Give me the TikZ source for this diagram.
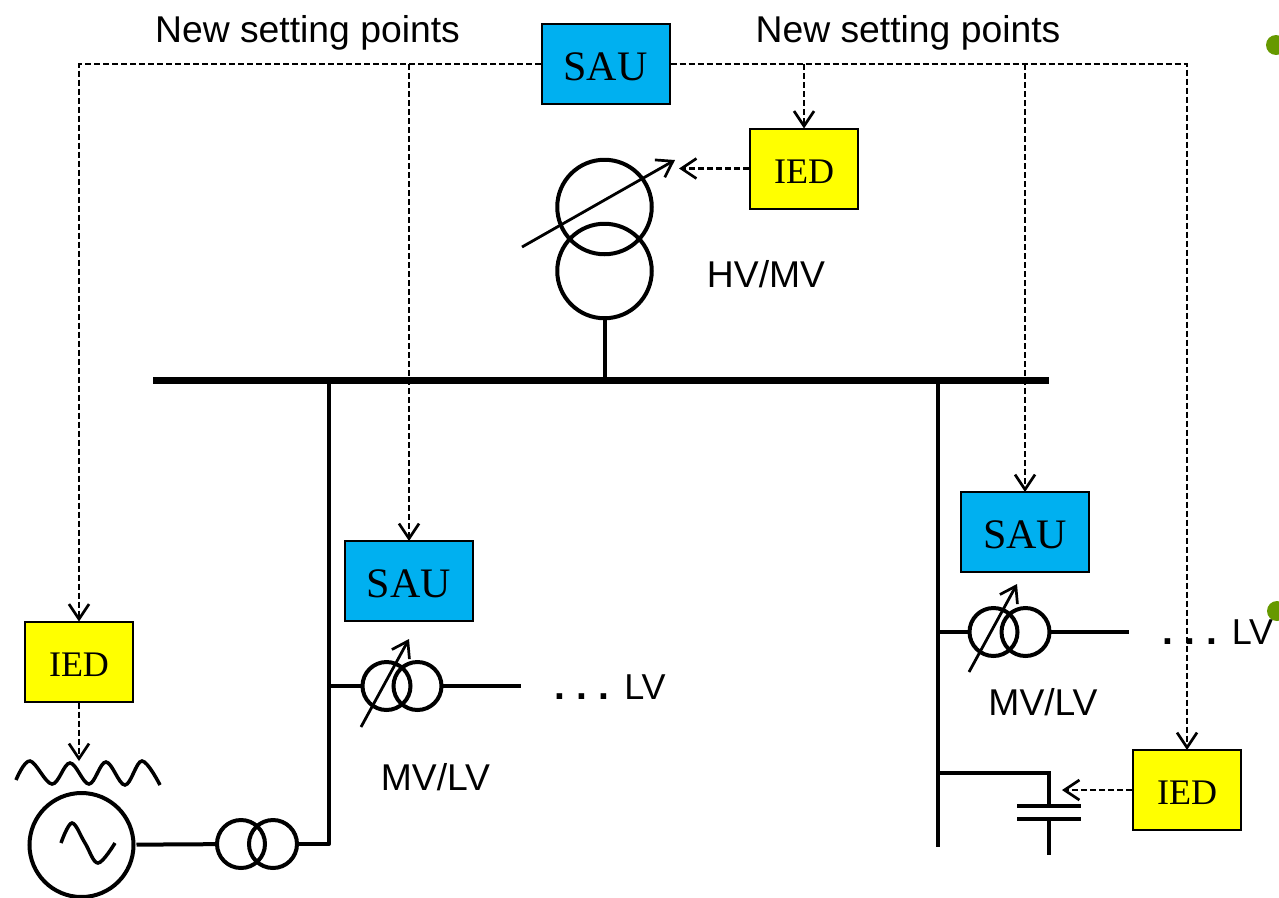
\documentclass[tikz,border=0pt]{standalone}
\usepackage{fontspec}
\setmainfont{Liberation Sans}
\newfontfamily\boxfont{Liberation Serif}
\usetikzlibrary{arrows.meta}
\definecolor{saublue}{HTML}{00B0F0}
\definecolor{iedyellow}{HTML}{FFFF00}
\definecolor{bulletgreen}{HTML}{669900}
\frenchspacing

\begin{document}
\begin{tikzpicture}[x=1pt,y=-1pt,>={Straight Barb[length=15pt,width=20pt,line width=2.7pt]},line width=4pt]
        \tikzstyle{sau}=[draw=black,line width=2pt,fill=saublue,inner sep=0pt,minimum width=128pt,minimum height=80pt,
                         text height=32pt,text depth=0pt,font=\boxfont\fontsize{42}{44}\selectfont]
        \tikzstyle{ied}=[draw=black,line width=2pt,fill=iedyellow,inner sep=0pt,minimum width=108pt,minimum height=80pt,
                         text height=29pt,text depth=0pt,font=\boxfont\fontsize{36}{38}\selectfont]
        \tikzstyle{winding}=[circle,draw=black,line width=4pt,inner sep=0pt,outer sep=0pt,minimum size=48pt]
        \tikzstyle{bigwinding}=[winding,minimum size=94.5pt]
        \tikzstyle{ctrl}=[->,line width=2.6pt,dash pattern=on 6pt off 3pt,shorten >=-1pt]
        \tikzstyle{tap}=[->,line width=2.8pt]
        \tikzstyle{caption}=[anchor=base,inner sep=0pt,font=\fontsize{37.3}{40}\selectfont]
        \tikzstyle{small}=[anchor=base,inner sep=0pt,font=\fontsize{36}{38}\selectfont]
        \tikzstyle{dots}=[anchor=base,inner sep=0pt,font=\bfseries\fontsize{39}{40}\selectfont]

        \clip (0,0) rectangle (1279,897);

        \node[sau] (SAUtop)  at (605.5,64)  {SAU};
        \node[sau] (SAUleft) at (409,581)   {SAU};
        \node[sau] (SAUright) at (1025,532) {SAU};

        \node[ied] (IEDtap) at (804,168.5)  {IED};
        \node[ied] (IEDgen) at (79,661.5)   {IED};
        \node[ied] (IEDcap) at (1187,790)   {IED};

        \node[caption] (newL) at (307.5,42) {New setting points};
        \node[caption] (newR) at (908,42)   {New setting points};
        \node[caption] (hvmv) at (766,287)  {HV/MV};
        \node[caption] (mvlvL) at (435.5,790) {MV/LV};
        \node[caption] (mvlvR) at (1043,715)  {MV/LV};
        \node[small]   (lvL)  at (645,699)  {LV};
        \node[small]   (lvR)  at (1252.5,644) {LV};
        \node[dots]    (dotsL) at (582,699) {. . .};
        \node[dots]    (dotsR) at (1190,644) {. . .};

        \node[bigwinding] (Ta) at (604.5,207) {};
        \node[bigwinding] (Tb) [below of=Ta,node distance=64pt] {};

        \node[winding] (La) at (386.5,686) {};
        \node[winding] (Lb) [right of=La,node distance=31pt] {};
        \node[winding] (Ra) at (993.5,632) {};
        \node[winding] (Rb) [right of=Ra,node distance=32pt] {};
        \node[winding] (Ga) at (241,844)   {};
        \node[winding] (Gb) [right of=Ga,node distance=32pt] {};
        \node[winding,minimum size=104pt] (gen) at (81.5,845) {};

        \coordinate (busL) at (153,380);
        \coordinate (busR) at (1049,380);
        \coordinate (busT) at (Tb.south |- busL);
        \coordinate (feedL) at (329,380);
        \coordinate (feedLend) at (329,844);
        \coordinate (feedR) at (938,380);
        \coordinate (feedRend) at (938,847);
        \coordinate (outL) at (521,686);
        \coordinate (outR) at (1129,632);
        \coordinate (capL) at (938,773);
        \coordinate (capT) at (1049,773);
        \coordinate (capA) at (1049,806);
        \coordinate (capB) at (1049,819);
        \coordinate (capE) at (1049,855);
        \coordinate (capP) at (1063,790);
        \coordinate (tapTa) at (522,247);
        \coordinate (tapTb) at (675,160);
        \coordinate (tapTp) at (680,168.5);
        \coordinate (tapLa) at (361,727);
        \coordinate (tapLb) at (409,639);
        \coordinate (tapRa) at (969,672);
        \coordinate (tapRb) at (1017,584);
        \coordinate (wavePt) at (79,760);
        \coordinate (jL) at (SAUtop.west -| SAUleft.north);
        \coordinate (jT) at (SAUtop.east -| IEDtap.north);
        \coordinate (jR) at (SAUtop.east -| SAUright.north);

        \draw[line width=7pt] (busL) -- (busR);
        \draw (Tb) -- (busT);
        \draw[line join=round] (feedL) -- (feedLend) -- (Gb);
        \draw (feedR) -- (feedRend);
        \draw (feedL |- La) -- (La);
        \draw (Lb) -- (outL);
        \draw (feedR |- Ra) -- (Ra);
        \draw (Rb) -- (outR);
        \draw[shorten <=3pt] (gen) -- (Ga);

        \draw (capL) -- (capT) -- (capA);
        \draw (capB) -- (capE);
        \draw[line width=4pt] ([xshift=-32pt]capA) -- ([xshift=32pt]capA);
        \draw[line width=4pt] ([xshift=-32pt]capB) -- ([xshift=32pt]capB);

        \draw[tap] (tapTa) -- (tapTb);
        \draw[tap] (tapLa) -- (tapLb);
        \draw[tap] (tapRa) -- (tapRb);

        \draw[ctrl] (SAUtop.west) -| (IEDgen.north);
        \draw[ctrl] (jL) -- (SAUleft.north);
        \draw[ctrl] (SAUtop.east) -| (IEDcap.north);
        \draw[ctrl] (jT) -- (IEDtap.north);
        \draw[ctrl] (jR) -- (SAUright.north);
        \draw[ctrl] (IEDtap.west |- tapTp) -- (tapTp);
        \draw[ctrl] (IEDgen.south) -- (wavePt);
        \draw[ctrl] (IEDcap.west) -- (capP);

        \draw[line width=3.5pt] plot[smooth,tension=0.6] coordinates {(16,780) (30,761) (52,784) (70,763) (89,784) (106,762) (125,785) (142,761) (160,785)};
        \draw[line width=3.5pt] plot[smooth,tension=0.6] coordinates {(61,843) (72,823) (85,843) (98,863) (115,843)};

        \fill[bulletgreen] (1276,45) circle (10);
        \fill[bulletgreen] (1277,611) circle (10);
      \end{tikzpicture}
\end{document}
